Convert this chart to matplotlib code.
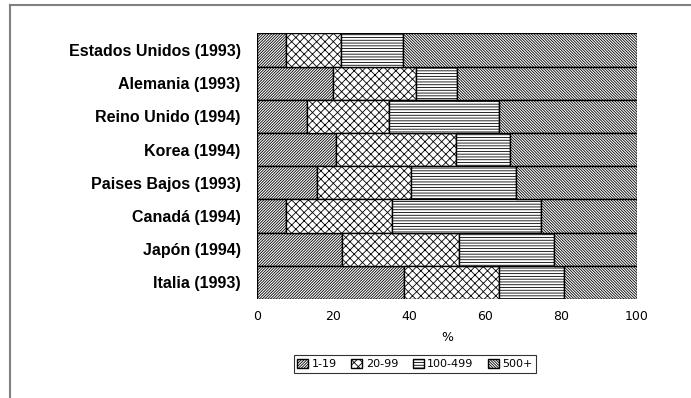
import matplotlib
matplotlib.use("Agg")
import matplotlib.pyplot as plt
from matplotlib.lines import Line2D
import numpy as np

plt.rcParams['hatch.linewidth'] = 0.6

countries = ["Estados Unidos (1993)", "Alemania (1993)", "Reino Unido (1994)", "Korea (1994)",
             "Paises Bajos (1993)", "Canadá (1994)", "Japón (1994)", "Italia (1993)"]
series_names = ["1-19", "20-99", "100-499", "500+"]
s_1_19 = [7.6, 20.0, 13.2, 20.7, 15.6, 7.6, 22.4, 38.7]
s_20_99 = [14.5, 21.8, 21.6, 31.7, 25.0, 27.9, 30.8, 25.0]
s_100_499 = [16.4, 10.9, 28.9, 14.3, 27.5, 39.2, 25.1, 17.2]
s_500 = [61.5, 47.3, 36.3, 33.3, 31.9, 25.3, 21.7, 19.1]
xticks = [0, 20, 40, 60, 80, 100]

fig = plt.figure(figsize=(6.91, 3.98), dpi=100)
ax = fig.add_axes([0.3724, 0.2487, 0.549, 0.6676])

hatches = ["/" * 12, "x" * 4, "-" * 6, "\\" * 12]
ypos = np.arange(len(countries))[::-1]
left = np.zeros(len(countries))
handles = []
for vals, h, name in zip([s_1_19, s_20_99, s_100_499, s_500], hatches, series_names):
    bars = ax.barh(ypos, vals, left=left, height=1.0, color="white", edgecolor="black",
                   hatch=h, linewidth=1.0, label=name)
    left += np.array(vals)
    handles.append(bars)

ax.set_xlim(0, 100)
ax.set_ylim(-0.5, len(countries) - 0.5)
ax.set_yticks(ypos)
ax.set_yticklabels(countries, fontsize=11.5, family="Liberation Sans", fontweight="bold")
ax.set_xticks(xticks)
ax.set_xticklabels([str(t) for t in xticks], fontsize=9, family="DejaVu Sans")
ax.tick_params(axis='both', length=0)
ax.tick_params(axis='x', pad=8)
ax.tick_params(axis='y', pad=12)
for s in ax.spines.values():
    s.set_visible(False)
ax.set_xlabel("%", fontsize=9, labelpad=6)

leg = fig.legend(handles=handles, labels=series_names, loc="center",
                 bbox_to_anchor=(415/691, 1 - 364/398), ncol=4, frameon=True,
                 fontsize=8, handlelength=1.0, handleheight=0.9, handletextpad=0.3,
                 columnspacing=1.3, borderpad=0.3, fancybox=False, edgecolor="black")
leg.get_frame().set_linewidth(0.8)

# partial gray frame (top and left)
fig.add_artist(Line2D([9.5/691, 1.0], [1 - 5/398, 1 - 5/398], color="#808080", lw=1.5,
                      transform=fig.transFigure))
fig.add_artist(Line2D([9.5/691, 9.5/691], [0, 1 - 5/398], color="#808080", lw=1.5,
                      transform=fig.transFigure))

fig.savefig("out.png", dpi=100)
